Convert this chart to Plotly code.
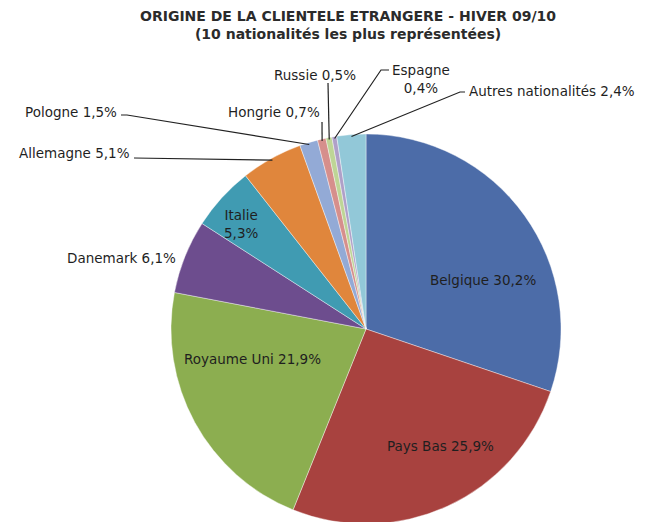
import math
import plotly.graph_objects as go

# ---- data ----
countries = ["Belgique", "Pays Bas", "Royaume Uni", "Danemark", "Italie", "Allemagne",
             "Pologne", "Hongrie", "Russie", "Espagne", "Autres nationalités"]
shares = [30.2, 25.9, 21.9, 6.1, 5.3, 5.1, 1.5, 0.7, 0.5, 0.4, 2.4]
colors = ["#4C6CA8", "#A8423F", "#8CAE50", "#6D4D8E", "#409BB2", "#E0863C",
          "#93AAD6", "#D68F8C", "#BED596", "#AFA0C8", "#92C8D8"]
title_lines = ["ORIGINE DE LA CLIENTELE ETRANGERE - HIVER 09/10",
               "(10 nationalités les plus représentées)"]

W, H = 648, 522
OFF = 8  # page body margin in the browser
FONT = "DejaVu Sans"

def fmt(v):
    return f"{v:.1f}".replace(".", ",") + "%"

# pie geometry (screen pixels)
CX, CY, R = 366, 329, 195
dom_x = [(CX - OFF - 200) / W, (CX - OFF + 200) / W]
dom_y = [1 - (CY - OFF + R) / H, 1 - (CY - OFF - R) / H]

def px(x):
    return (x - OFF) / W

def py(y):
    return 1 - (y - OFF) / H

total = sum(shares)
cum = 0
mid_angle = {}
for c, v in zip(countries, shares):
    mid_angle[c] = (cum + v / 2) / total * 2 * math.pi
    cum += v

def edge(c, k=0.99):
    a = mid_angle[c]
    return CX + k * R * math.sin(a), CY - k * R * math.cos(a)

fig = go.Figure(go.Pie(
    labels=countries, values=shares, sort=False, direction="clockwise", rotation=0,
    marker=dict(colors=colors, line=dict(color="rgba(255,255,255,0.5)", width=0.8)),
    textinfo="none", hoverinfo="label+percent", showlegend=False,
    domain=dict(x=dom_x, y=dom_y),
))

annotations = []
shapes = []

# title
annotations.append(dict(
    text="<b>" + title_lines[0] + "</b><br><b>" + title_lines[1] + "</b>",
    x=px(348), y=py(25), xref="paper", yref="paper", xanchor="center", yanchor="middle",
    showarrow=False, align="center", font=dict(family=FONT, size=14, color="#2b2b2b"),
))

lab_font = dict(family=FONT, size=13.5, color="#1f1f1f")

# inside labels
inside = {
    "Belgique": (483, 280),
    "Pays Bas": (440, 446),
    "Royaume Uni": (252, 359),
}
for c, (x, y) in inside.items():
    v = shares[countries.index(c)]
    annotations.append(dict(text=f"{c} {fmt(v)}", x=px(x), y=py(y), xref="paper", yref="paper",
                            xanchor="center", yanchor="middle", showarrow=False, font=lab_font))
v = shares[countries.index("Italie")]
annotations.append(dict(text=f"Italie<br>{fmt(v)}", x=px(241), y=py(224), xref="paper", yref="paper",
                        xanchor="center", yanchor="middle", showarrow=False, font=lab_font))

# outside labels: (text pos, xanchor, leader points before the slice edge)
outside = {
    "Danemark": ((178, 258), "right", None),
    "Allemagne": ((132, 153), "right", [(134, 158)]),
    "Pologne": ((119, 112), "right", [(121, 115), (127, 115)]),
    "Hongrie": ((322, 112), "right", [(322, 122)]),
    "Russie": ((358, 75), "right", [(328, 83)]),
    "Autres nationalités": ((467, 91), "left", [(465, 92), (460, 92)]),
}
line_style = dict(color="#222222", width=1.2)
for c, ((x, y), anc, pts) in outside.items():
    v = shares[countries.index(c)]
    annotations.append(dict(text=f"{c} {fmt(v)}", x=px(x), y=py(y), xref="paper", yref="paper",
                            xanchor=anc, yanchor="middle", showarrow=False, font=lab_font))
    if pts:
        ex, ey = edge(c)
        path = "M " + " L ".join(f"{px(a)},{py(b)}" for a, b in pts + [(ex, ey)])
        shapes.append(dict(type="path", path=path, xref="paper", yref="paper", line=line_style))

# Espagne (two lines)
v = shares[countries.index("Espagne")]
annotations.append(dict(text=f"Espagne<br>{fmt(v)}", x=px(421), y=py(79), xref="paper", yref="paper",
                        xanchor="center", yanchor="middle", showarrow=False, font=lab_font))
ex, ey = edge("Espagne")
pts = [(389, 70), (381, 70), (ex, ey)]
shapes.append(dict(type="path", path="M " + " L ".join(f"{px(a)},{py(b)}" for a, b in pts),
                   xref="paper", yref="paper", line=line_style))

fig.update_layout(
    width=W, height=H, margin=dict(l=0, r=0, t=0, b=0),
    paper_bgcolor="white", plot_bgcolor="white",
    annotations=annotations, shapes=shapes,
)

fig.write_html("out.html")
